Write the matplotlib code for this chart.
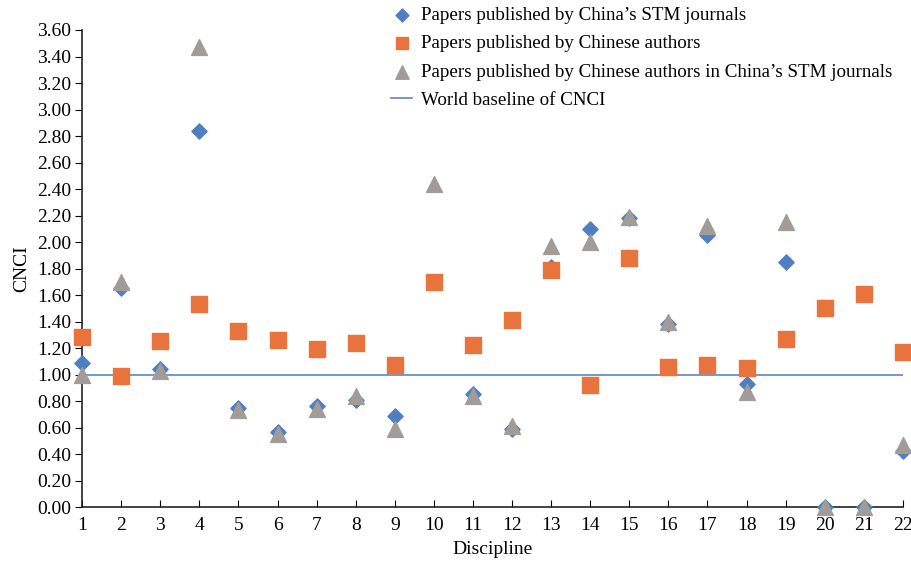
import matplotlib
matplotlib.use("Agg")
import matplotlib.pyplot as plt
import numpy as np

plt.rcParams['font.family'] = ['Liberation Serif', 'DejaVu Serif']

disciplines = list(range(1, 23))
stm_journals = [1.09, 1.65, 1.04, 2.84, 0.75, 0.57, 0.76, 0.81, 0.69, np.nan, 0.85,
                0.59, 1.81, 2.10, 2.18, 1.38, 2.05, 0.93, 1.85, 0.00, 0.00, 0.42]
chinese_authors = [1.28, 0.99, 1.25, 1.53, 1.33, 1.26, 1.19, 1.24, 1.07, 1.70, 1.22,
                   1.41, 1.79, 0.92, 1.88, 1.06, 1.07, 1.05, 1.27, 1.50, 1.61, 1.17]
authors_in_stm = [1.00, 1.70, 1.03, 3.47, 0.73, 0.55, 0.74, 0.84, 0.59, 2.44, 0.84,
                  0.61, 1.97, 2.00, 2.19, 1.40, 2.12, 0.87, 2.15, 0.00, 0.00, 0.47]
baseline = 1.0
yticks = np.arange(0, 3.61, 0.2)

fig = plt.figure(figsize=(9.12, 5.66), dpi=100)
ax = fig.add_axes([0.090, 0.104, 0.900, 0.843])

ax.axhline(baseline, color='#5B86C5', lw=1.2, zorder=1, label='World baseline of CNCI')
ax.scatter(disciplines, stm_journals, marker='D', s=60, color='#4F7FC0',
           zorder=3, label="Papers published by China\u2019s STM journals", clip_on=False)
ax.scatter(disciplines, chinese_authors, marker='s', s=120, color='#E8733D',
           zorder=4, label='Papers published by Chinese authors', clip_on=False)
ax.scatter(disciplines, authors_in_stm, marker='^', s=130, color='#A29C98',
           zorder=5, label="Papers published by Chinese authors in China\u2019s STM journals", clip_on=False)

ax.set_xlim(1, 22)
ax.set_ylim(0, 3.6)
ax.set_xticks(disciplines)
ax.set_yticks(yticks)
ax.set_yticklabels([f"{v:.2f}" for v in yticks])
ax.tick_params(axis='x', direction='in', length=5, labelsize=14, pad=7)
ax.tick_params(axis='y', direction='out', length=5, labelsize=14, pad=3)
ax.spines['top'].set_visible(False)
ax.spines['right'].set_visible(False)
for s in ['left', 'bottom']:
    ax.spines[s].set_linewidth(1.2)
    ax.spines[s].set_color('#222222')

ax.set_xlabel('Discipline', fontsize=14, labelpad=5)
ax.set_ylabel('CNCI', fontsize=14, labelpad=5)

handles, labels = ax.get_legend_handles_labels()
order = [1, 2, 3, 0]
leg = fig.legend([handles[i] for i in order], [labels[i] for i in order],
                 loc='upper left', bbox_to_anchor=(0.41, 1.018), frameon=False,
                 fontsize=13.7, handlelength=1.1, handletextpad=0.45,
                 labelspacing=0.57, markerscale=0.85)

fig.savefig('out.png', dpi=100)
